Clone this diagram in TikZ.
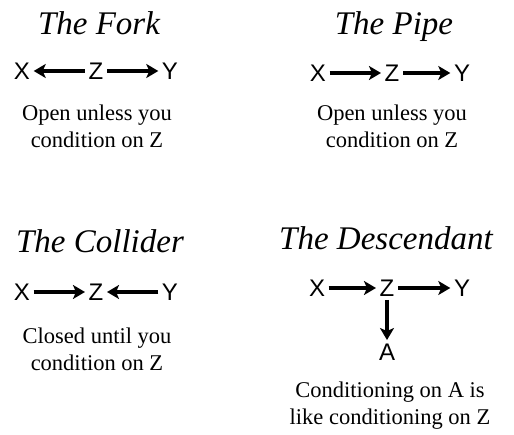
\documentclass[tikz,border=0pt]{standalone}
\usepackage{fontspec}
\setmainfont{Liberation Serif}
\newfontfamily\handfont{Liberation Sans}
\usetikzlibrary{arrows.meta}

\begin{document}
\begin{tikzpicture}[x=1pt,y=-1pt,
  var/.style={font=\handfont\fontsize{24}{24}\selectfont,inner sep=3.5pt},
  title/.style={anchor=base,font=\itshape\fontsize{33}{33}\selectfont},
  note/.style={align=center,font=\fontsize{22.5}{27}\selectfont},
  arr/.style={-{Stealth[length=12pt,width=14pt,inset=3pt]},line width=3.2pt}]
\useasboundingbox (0,0) rectangle (514,435);

% the fork
\node[title] (forkT) at (99,35) {The Fork};
\node[var] (forkX) at (22,71) {X};
\node[var] (forkZ) at (96,71) {Z};
\node[var] (forkY) at (170,71) {Y};
\draw[arr] (forkZ) -- (forkX);
\draw[arr] (forkZ) -- (forkY);
\node[note] (forkN) at (97,126) {Open unless you\\condition on Z};

% the pipe
\node[title] (pipeT) at (394,35) {The Pipe};
\node[var] (pipeX) at (318,73) {X};
\node[var] (pipeZ) at (392,73) {Z};
\node[var] (pipeY) at (462,73) {Y};
\draw[arr] (pipeX) -- (pipeZ);
\draw[arr] (pipeZ) -- (pipeY);
\node[note] (pipeN) at (392,126) {Open unless you\\condition on Z};

% the collider
\node[title] (collT) at (100,253) {The Collider};
\node[var] (collX) at (22,292) {X};
\node[var] (collZ) at (96,292) {Z};
\node[var] (collY) at (170,292) {Y};
\draw[arr] (collX) -- (collZ);
\draw[arr] (collY) -- (collZ);
\node[note] (collN) at (97,349) {Closed until you\\condition on Z};

% the descendant
\node[title] (descT) at (386,250) {The Descendant};
\node[var] (descX) at (317,288) {X};
\node[var] (descZ) at (387,288) {Z};
\node[var] (descY) at (462,288) {Y};
\node[var] (descA) at (387,352) {A};
\draw[arr] (descX) -- (descZ);
\draw[arr] (descZ) -- (descY);
\draw[arr] (descZ) -- (descA);
\node[note] (descN) at (390,406) {Conditioning on A is\\like conditioning on Z};

\end{tikzpicture}
\end{document}
